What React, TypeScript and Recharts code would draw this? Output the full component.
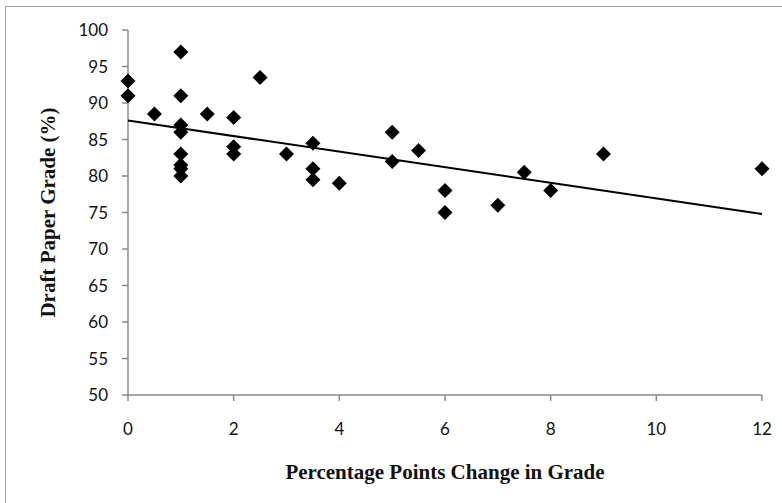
import React from 'react';
import { ScatterChart, Scatter, XAxis, YAxis } from 'recharts';

const changeValues = [0, 0, 0.5, 1, 1, 1, 1, 1, 1, 1, 1, 1.5, 2, 2, 2, 2.5, 3, 3.5, 3.5, 3.5, 4, 5, 5, 5.5, 6, 6, 7, 7.5, 8, 9, 12];
const gradeValues = [93, 91, 88.5, 97, 91, 87, 86, 83, 81.5, 81, 80, 88.5, 88, 84, 83, 93.5, 83, 84.5, 81, 79.5, 79, 86, 82, 83.5, 78, 75, 76, 80.5, 78, 83, 81];
const trendX = [0, 12];
const trendY = [87.6, 74.8];
const xTicks = [0, 2, 4, 6, 8, 10, 12];
const yTicks = [50, 55, 60, 65, 70, 75, 80, 85, 90, 95, 100];

const points = changeValues.map((x, i) => ({ x, y: gradeValues[i] }));
const trend = trendX.map((x, i) => ({ x, y: trendY[i] }));

const Diamond = (props: any) => {
  const { cx, cy } = props;
  const r = 7.5;
  return <polygon points={`${cx},${cy - r} ${cx + r},${cy} ${cx},${cy + r} ${cx - r},${cy}`} fill="#000" />;
};

const axisColor = '#8a8a8a';
const tickStyle = { fontFamily: 'Lato, "Open Sans", sans-serif', fontSize: 17, fill: '#111' };
const titleStyle = { fontFamily: '"Liberation Serif", "DejaVu Serif", serif', fontSize: 21, fontWeight: 'bold', fill: '#111' };

export default function App() {
  return (
    <div style={{ position: 'absolute', left: 0, top: 0, width: 782, height: 503, background: '#fff', overflow: 'hidden' }}>
      <div style={{ position: 'absolute', left: 5, top: 6, width: 790, height: 510, border: '1.5px solid #a5a5a5', boxSizing: 'border-box' }} />
      <div style={{ position: 'absolute', left: 0, top: 0 }}>
        <ScatterChart width={782} height={503} margin={{ top: 30, right: 20, bottom: 48, left: 0 }}>
          <XAxis
            type="number"
            dataKey="x"
            domain={[0, 12]}
            ticks={xTicks}
            height={60}
            stroke={axisColor}
            strokeWidth={1.5}
            tickSize={6}
            tickMargin={22}
            tick={tickStyle}
            label={{ value: 'Percentage Points Change in Grade', position: 'insideBottom', offset: -24, style: titleStyle }}
          />
          <YAxis
            type="number"
            dataKey="y"
            domain={[50, 100]}
            ticks={yTicks}
            width={128}
            stroke={axisColor}
            strokeWidth={1.5}
            tickSize={6}
            tickMargin={14}
            tick={tickStyle}
            label={{ value: 'Draft Paper Grade (%)', angle: -90, position: 'insideLeft', offset: 48, style: { ...titleStyle, textAnchor: 'middle' } }}
          />
          <Scatter data={points} shape={Diamond} isAnimationActive={false} />
          <Scatter data={trend} line={{ stroke: '#000', strokeWidth: 2 }} shape={() => null} isAnimationActive={false} />
        </ScatterChart>
      </div>
    </div>
  );
}
